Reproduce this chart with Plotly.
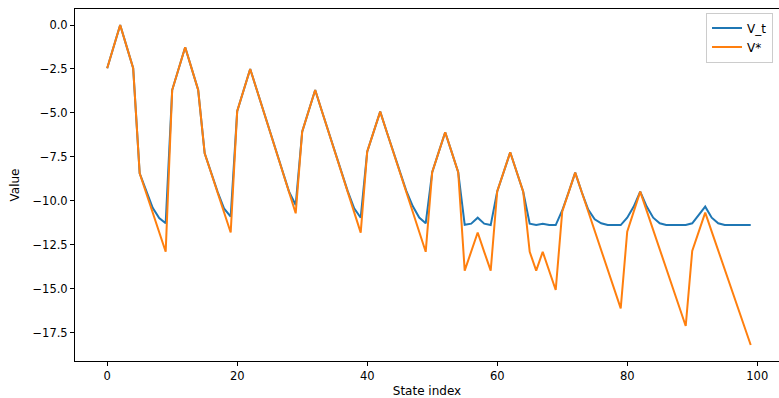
import plotly.graph_objects as go

states = list(range(100))

v_star = [
    -2.46, -1.23, 0.0, -1.23, -2.46, -8.44, -9.55, -10.67, -11.78, -12.9,
    -3.7, -2.48, -1.27, -2.48, -3.7, -7.3, -8.43, -9.55, -10.68, -11.8,
    -4.9, -3.7, -2.5, -3.67, -4.85, -6.02, -7.19, -8.37, -9.54, -10.71,
    -6.07, -4.88, -3.7, -4.86, -6.02, -7.17, -8.33, -9.49, -10.65, -11.81,
    -7.2, -6.06, -4.93, -6.07, -7.21, -8.35, -9.48, -10.62, -11.76, -12.9,
    -8.37, -7.23, -6.1, -7.23, -8.37, -13.97, -12.9, -11.8, -12.9, -13.97,
    -9.47, -8.36, -7.24, -8.36, -9.48, -12.9, -13.97, -12.9, -13.98, -15.07,
    -10.62, -9.51, -8.4, -9.5, -10.61, -11.71, -12.81, -13.92, -15.02, -16.12,
    -11.76, -10.62, -9.48, -10.57, -11.66, -12.75, -13.85, -14.94, -16.03, -17.12,
    -12.85, -11.76, -10.67, -11.75, -12.82, -13.9, -14.98, -16.05, -17.13, -18.2,
]

v_t = [
    -2.46, -1.23, 0.0, -1.23, -2.46, -8.44, -9.48, -10.4, -10.98, -11.28,
    -3.7, -2.48, -1.27, -2.48, -3.7, -7.3, -8.43, -9.5, -10.45, -10.9,
    -4.9, -3.7, -2.5, -3.67, -4.85, -6.02, -7.19, -8.37, -9.5, -10.24,
    -6.07, -4.88, -3.7, -4.86, -6.02, -7.17, -8.33, -9.45, -10.43, -10.96,
    -7.2, -6.06, -4.93, -6.07, -7.21, -8.35, -9.42, -10.3, -10.95, -11.28,
    -8.37, -7.23, -6.1, -7.23, -8.37, -11.36, -11.3, -10.96, -11.3, -11.38,
    -9.47, -8.36, -7.24, -8.36, -9.48, -11.3, -11.38, -11.3, -11.38, -11.38,
    -10.55, -9.5, -8.4, -9.5, -10.5, -11.05, -11.28, -11.38, -11.38, -11.38,
    -10.96, -10.33, -9.48, -10.33, -10.96, -11.28, -11.38, -11.38, -11.38, -11.38,
    -11.28, -10.8, -10.33, -10.96, -11.28, -11.38, -11.38, -11.38, -11.38, -11.38,
]

y_ticks = [0.0, -2.5, -5.0, -7.5, -10.0, -12.5, -15.0, -17.5]
x_ticks = [0, 20, 40, 60, 80, 100]

FONT = "DejaVu Sans"

fig = go.Figure()
fig.add_trace(go.Scatter(x=states, y=v_t, mode="lines", name="V_t",
                         line=dict(color="#1f77b4", width=2)))
fig.add_trace(go.Scatter(x=states, y=v_star, mode="lines", name="V*",
                         line=dict(color="#ff7f0e", width=2)))

axis_common = dict(
    showgrid=False, zeroline=False, showline=True, mirror=True,
    linecolor="#000000", linewidth=1, ticks="outside", ticklen=4,
    tickwidth=1, tickcolor="#000000", automargin=False,
    tickfont=dict(family=FONT, size=11.5, color="#000000"),
)

fig.update_layout(
    width=779, height=398,
    margin=dict(l=75, r=0, t=9, b=37),
    paper_bgcolor="white", plot_bgcolor="white",
    font=dict(family=FONT, size=12, color="#000000"),
    xaxis=dict(range=[-4.95, 103.35], tickvals=x_ticks,
               title=dict(text="State index", standoff=7,
                          font=dict(family=FONT, size=12)),
               **axis_common),
    yaxis=dict(range=[-19.11, 0.91], tickvals=y_ticks,
               ticktext=[f"{v:.1f}".replace("-", "\u2212") for v in y_ticks],
               title=dict(text="Value", standoff=10,
                          font=dict(family=FONT, size=12)),
               **axis_common),
    legend=dict(x=0.9915, y=0.99, xanchor="right", yanchor="top",
                bgcolor="rgba(255,255,255,0.8)", bordercolor="#cccccc",
                borderwidth=1, font=dict(family=FONT, size=12),
                itemwidth=30, tracegroupgap=0),
    showlegend=True,
)

fig.write_html(
    "out.html",
    config={"displayModeBar": False},
    post_script="document.body.style.margin='0px';document.body.style.overflow='hidden';",
)
